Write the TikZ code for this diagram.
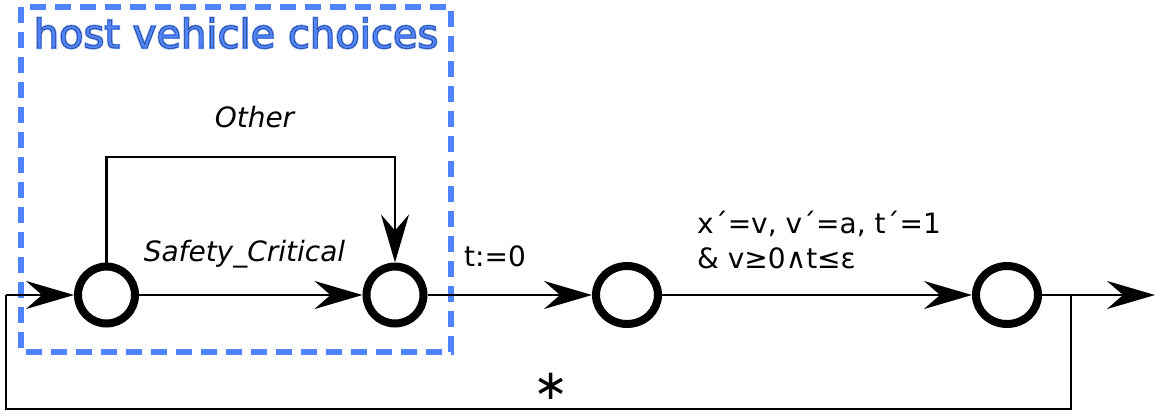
\documentclass[tikz,border=0pt]{standalone}
\usepackage{fontspec}
\setmainfont{DejaVu Sans}
\newfontfamily\titlehalo[FakeBold=5]{DejaVu Sans}
\newfontfamily\titleline[FakeBold=0.6]{DejaVu Sans}
\usetikzlibrary{arrows.meta,shapes.geometric}
\definecolor{hostblue}{RGB}{80,132,255}
\definecolor{halo}{RGB}{100,150,255}
\begin{document}
\begin{tikzpicture}[x=1pt,y=-1pt,
  state/.style={circle,draw,line width=8pt,minimum size=57pt,inner sep=0pt,outer sep=4pt},
  wstate/.style={ellipse,draw,line width=8pt,minimum width=62pt,minimum height=58pt,inner sep=0pt,outer sep=4pt},
  conn/.style={line width=2.5pt},
  arr/.style={conn,-{Stealth[length=48pt,width=28pt,inset=16pt]}},
  lbl/.style={font=\fontsize{28}{34}\selectfont,inner sep=0pt,anchor=base},
  grp/.style={draw=hostblue,line width=6pt,dash pattern=on 16pt off 9pt},
  titlelbl/.style={font=\fontsize{40}{48}\selectfont,inner sep=0pt,anchor=base},
]
\useasboundingbox (0,0) rectangle (1165,416);
% group box
\draw[grp] (21,7) rectangle (451,352);
\node[titlelbl] (titleh) at (236,48) {\color{halo}\titlehalo host vehicle choices};
\node[titlelbl] (title) at (236,48) {\color{hostblue}\special{pdf:code 0 0 0 RG}\titleline host vehicle choices};
% states
\node[state] (s1) at (106.5,295) {};
\node[state] (s2) at (395,295) {};
\node[wstate] (s3) at (627,295) {};
\node[wstate] (s4) at (1007,295) {};
\coordinate (out) at (1155,295);
\coordinate (split) at (1071,295);
\coordinate (loopl) at (6,295);
% connectors
\draw[arr] (s1) -- (s2);
\draw[arr] (s1.north) -- (106.5,157) -- (395,157) -- (s2.north);
\draw[arr] (s2) -- (s3);
\draw[arr] (s3) -- (s4);
\draw[arr] (s4) -- (out);
\draw[conn] (split) -- (1071,409) -- (6,409) -- (loopl);
\draw[arr] (loopl) -- (s1);
% labels
\node[lbl] (other) at (254.5,127) {\itshape Other};
\node[lbl] (safety) at (244.5,261) {\itshape Safety\_Critical};
\node[lbl,anchor=base west] (reset) at (464,266) {t:=0};
\node[lbl,anchor=base west] (flow1) at (697,233) {x´=v, v´=a, t´=1};
\node[lbl,anchor=base west] (flow2) at (697,268) {\& v≥0∧t≤ε};
\node[font=\fontsize{42}{48}\selectfont,inner sep=0pt] (star) at (551,386) {∗};
\end{tikzpicture}
\end{document}
